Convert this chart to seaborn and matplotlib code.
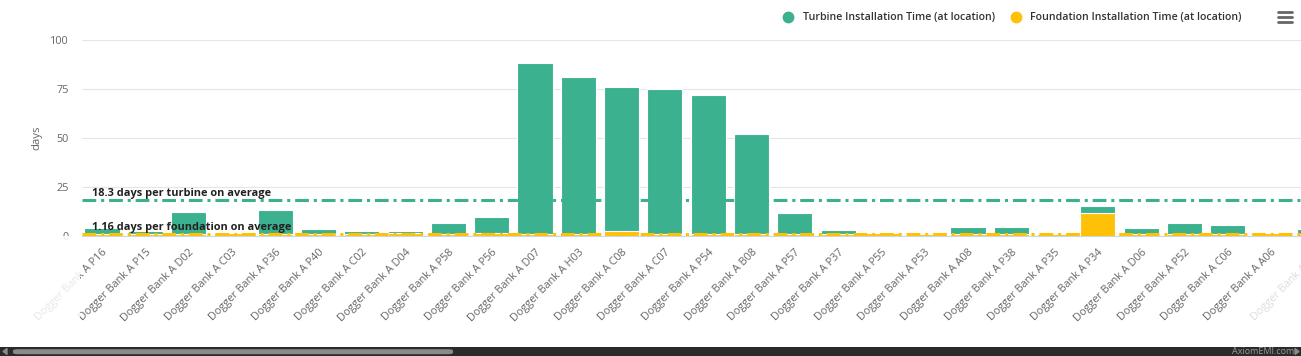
import matplotlib
matplotlib.use("Agg")
import matplotlib.pyplot as plt
import seaborn as sns
import pandas as pd
from matplotlib.lines import Line2D
from matplotlib.patches import Rectangle, FancyBboxPatch, Polygon

# --- DATA ---
locations = [
    "Dogger Bank A P16", "Dogger Bank A P15", "Dogger Bank A D02", "Dogger Bank A C03",
    "Dogger Bank A P36", "Dogger Bank A P40", "Dogger Bank A C02", "Dogger Bank A D04",
    "Dogger Bank A P58", "Dogger Bank A P56", "Dogger Bank A D07", "Dogger Bank A H03",
    "Dogger Bank A C08", "Dogger Bank A C07", "Dogger Bank A P54", "Dogger Bank A B08",
    "Dogger Bank A P57", "Dogger Bank A P37", "Dogger Bank A P55", "Dogger Bank A P53",
    "Dogger Bank A A08", "Dogger Bank A P38", "Dogger Bank A P35", "Dogger Bank A P34",
    "Dogger Bank A D06", "Dogger Bank A P52", "Dogger Bank A C06", "Dogger Bank A A06",
    "Dogger Bank A A05",
]
turbine_days = [4.0, 2.5, 12.2, 2.2, 13.2, 3.5, 2.5, 2.5, 6.8, 9.5, 88.4, 81.2, 76.1, 75.2,
                72.1, 51.9, 11.9, 3.0, 1.5, 1.0, 4.4, 4.4, 1.2, 15.1, 3.9, 6.8, 5.4, 1.0, 3.4]
foundation_days = [1.2, 1.0, 1.0, 1.5, 1.0, 1.0, 1.2, 1.5, 0.8, 1.5, 1.0, 1.0, 2.3, 1.0,
                   1.0, 1.0, 1.0, 1.0, 1.4, 1.0, 1.0, 1.0, 1.2, 11.6, 1.0, 1.0, 1.0, 1.3, 1.0]
turbine_avg = 18.3
foundation_avg = 1.16

GREEN = "#3bb18f"
YELLOW = "#ffc107"
W, H = 1301, 356

sns.set_theme(style="white")
plt.rcParams["font.family"] = ["Open Sans", "DejaVu Sans"]

df = pd.DataFrame({"location": locations, "turbine": turbine_days, "foundation": foundation_days})

fig = plt.figure(figsize=(W / 100, H / 100), dpi=100)
ax = fig.add_axes([82 / W, (H - 236) / H, (W - 82) / W, 196 / H])

sns.barplot(data=df, x="location", y="turbine", order=locations, color=GREEN,
            saturation=1, width=0.81, edgecolor="white", linewidth=0.8, ax=ax, zorder=2)
sns.barplot(data=df, x="location", y="foundation", order=locations, color=YELLOW,
            saturation=1, width=0.81, edgecolor="white", linewidth=0.8, ax=ax, zorder=3)

# average lines
ax.axhline(turbine_avg, color=GREEN, lw=2.2, linestyle=(0, (4.5, 1.6, 1, 1.6)), zorder=4)
ax.axhline(foundation_avg, color=YELLOW, lw=2.2, linestyle=(0, (4.5, 1.6, 1, 1.6)), zorder=4)
ax.annotate(f"{turbine_avg} days per turbine on average", xy=(-0.24, turbine_avg),
            xytext=(0, 3), textcoords="offset points", fontsize=7.9, fontweight="bold",
            color="#222222", va="baseline", ha="left", zorder=5)
ax.annotate(f"{foundation_avg} days per foundation on average", xy=(-0.24, foundation_avg),
            xytext=(0, 2.6), textcoords="offset points", fontsize=7.9, fontweight="bold",
            color="#222222", va="baseline", ha="left", zorder=5)

ax.set_xlim(-0.462, 27.69)
ax.set_ylim(0, 100)
ax.set_yticks([0, 25, 50, 75, 100])
ax.yaxis.grid(True, color="#e6e6e6", lw=0.8)
ax.set_axisbelow(True)
for s in ["top", "right", "left"]:
    ax.spines[s].set_visible(False)
ax.spines["bottom"].set_color("#ccd6eb")
ax.spines["bottom"].set_linewidth(0.8)
ax.tick_params(axis="y", length=0, pad=9.5, labelsize=7.8, labelcolor="#666666")
ax.tick_params(axis="x", length=0, pad=8, labelsize=7.8, labelcolor="#666666")
plt.setp(ax.get_xticklabels(), rotation=45, ha="right", rotation_mode="anchor")
ax.set_xlabel("")
ax.set_ylabel("days", fontsize=8.2, color="#666666")
ax.yaxis.set_label_coords((42 - 82) / (W - 82), 0.5)

# label of the partly scrolled-off last category (cut by the edge, as in the source)
ax.annotate(locations[-1], xy=(len(locations) - 1, 0), xytext=(2, -8),
            textcoords="offset points", rotation=45, ha="right", va="top",
            rotation_mode="anchor", fontsize=7.8, color="#dddddd", annotation_clip=False)

# fade for scrolled-off left side
fig.add_artist(Rectangle((0, 10 / H), 80 / W, (H - 246) / H, transform=fig.transFigure,
                         facecolor="white", alpha=0.85, edgecolor="none", zorder=10))

# legend
handles = [Line2D([], [], marker="o", ls="", color=GREEN, markersize=7.5),
           Line2D([], [], marker="o", ls="", color=YELLOW, markersize=7.5)]
leg = fig.legend(handles, ["Turbine Installation Time (at location)",
                           "Foundation Installation Time (at location)"],
                 loc="center right", bbox_to_anchor=(1246 / W, 1 - 18 / H), ncol=2,
                 frameon=False, handletextpad=0.35, columnspacing=1.0, borderaxespad=0,
                 prop={"size": 7.7, "weight": "semibold"})
for t in leg.get_texts():
    t.set_color("#333333")

# menu icon
for yy in [11.5, 16.5, 21.5]:
    fig.add_artist(Line2D([1278 / W, 1292 / W], [1 - yy / H, 1 - yy / H],
                          transform=fig.transFigure, color="#666666", lw=2))

# scrollbar
fig.add_artist(Rectangle((0, 0), 1, 9 / H, transform=fig.transFigure,
                         facecolor="#2b2b2b", edgecolor="none", zorder=11))
fig.add_artist(FancyBboxPatch((13 / W, 1.8 / H), 440 / W, 5 / H, transform=fig.transFigure,
                              boxstyle="round,pad=0,rounding_size=0.004",
                              facecolor="#8a8a8a", edgecolor="none", zorder=12))
fig.add_artist(Polygon([[3 / W, 4.5 / H], [7 / W, 7.5 / H], [7 / W, 1.5 / H]],
                       transform=fig.transFigure, color="#8a8a8a", zorder=12))
fig.add_artist(Polygon([[1299 / W, 4.5 / H], [1295 / W, 7.5 / H], [1295 / W, 1.5 / H]],
                       transform=fig.transFigure, color="#8a8a8a", zorder=12))
fig.text(1294 / W, 4.5 / H, "AxiomEMI.com", ha="right", va="center", fontsize=6.5,
         color="#9a9a9a", zorder=13)

fig.savefig("out.png", dpi=100)
